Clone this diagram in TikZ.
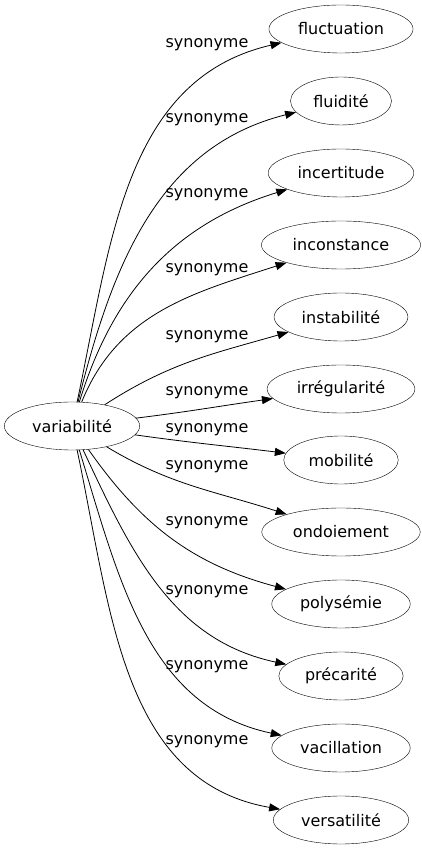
\documentclass[tikz,border=0pt]{standalone}
\usepackage{fontspec}
\setmainfont{DejaVu Sans}
\usetikzlibrary{shapes.geometric,arrows.meta}

\tikzset{
  word/.style={draw, ellipse, inner xsep=8pt, inner ysep=2pt, minimum height=48pt},
  syn/.style={-{Triangle[length=11pt,width=8pt]}, line width=0.8pt},
  lbl/.style={inner sep=0pt}
}

\begin{document}
\begin{tikzpicture}[x=1pt,y=1pt,font=\fontsize{16pt}{19pt}\selectfont]
\useasboundingbox (0,0) rectangle (422,851);
\node[word] (var) at (72,425) {variabilité};

\node[word] (fluct) at (341,822) {fluctuation};
\node[word] (fluid) at (341,750) {fluidité};
\node[word] (incert) at (341,678) {incertitude};
\node[word] (incons) at (341,606) {inconstance};
\node[word] (instab) at (341,534) {instabilité};
\node[word] (irreg) at (341,462) {irrégularité};
\node[word] (mob) at (341,391) {mobilité};
\node[word] (ondo) at (341,319) {ondoiement};
\node[word] (poly) at (341,247) {polysémie};
\node[word] (prec) at (341,175) {précarité};
\node[word] (vacil) at (341,103) {vacillation};
\node[word] (versat) at (341,31) {versatilité};

\node[lbl] (s1) at (207,806) {synonyme};
\node[lbl] (s2) at (207,731) {synonyme};
\node[lbl] (s3) at (207,656) {synonyme};
\node[lbl] (s4) at (207,581) {synonyme};
\node[lbl] (s5) at (207,514) {synonyme};
\node[lbl] (s6) at (207,458) {synonyme};
\node[lbl] (s7) at (207,421) {synonyme};
\node[lbl] (s8) at (207,384) {synonyme};
\node[lbl] (s9) at (207,328) {synonyme};
\node[lbl] (s10) at (207,259) {synonyme};
\node[lbl] (s11) at (207,184) {synonyme};
\node[lbl] (s12) at (207,109) {synonyme};

\draw[syn] (var) to[out=78,in=193] (fluct);
\draw[syn] (var) to[out=76,in=194] (fluid);
\draw[syn] (var) to[out=73,in=197] (incert);
\draw[syn] (var) to[out=68,in=198] (incons);
\draw[syn] (var) to[out=33,in=196] (instab);
\draw[syn] (var) to[out=7,in=188] (irreg);
\draw[syn] (var) to[out=-8,in=173] (mob);
\draw[syn] (var) to[out=-31,in=162] (ondo);
\draw[syn] (var) to[out=-55,in=165] (poly);
\draw[syn] (var) to[out=-65,in=168] (prec);
\draw[syn] (var) to[out=-73,in=168] (vacil);
\draw[syn] (var) to[out=-78,in=170] (versat);
\end{tikzpicture}
\end{document}
